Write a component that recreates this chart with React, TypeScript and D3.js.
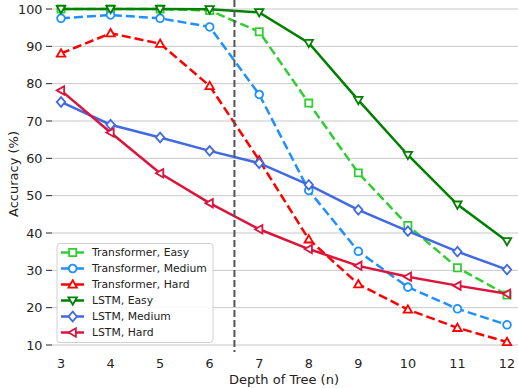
import React from "react";
import * as d3 from "d3";

// depths on the x axis
const depths = [3, 4, 5, 6, 7, 8, 9, 10, 11, 12];

// accuracy per series (%)
const transformerEasy = [100, 100, 100, 99.6, 93.9, 74.8, 56.1, 42.0, 30.7, 23.4];
const transformerMedium = [97.5, 98.4, 97.5, 95.2, 77.1, 51.4, 35.1, 25.5, 19.7, 15.4];
const transformerHard = [88.1, 93.5, 90.7, 79.4, 59.5, 38.3, 26.3, 19.5, 14.6, 10.8];
const lstmEasy = [100, 100, 100, 99.9, 99.1, 90.9, 75.6, 60.9, 47.6, 37.8];
const lstmMedium = [75.1, 69.0, 65.6, 62.0, 58.7, 52.9, 46.2, 40.5, 35.0, 30.2];
const lstmHard = [78.2, 66.9, 56.0, 48.0, 41.0, 35.7, 31.2, 28.3, 25.9, 23.7];

const yTicks = [10, 20, 30, 40, 50, 60, 70, 80, 90, 100];
const splitDepth = 6.5;

type Series = {
  name: string;
  values: number[];
  color: string;
  dashed: boolean;
  marker: string;
};

const series: Series[] = [
  { name: "Transformer, Easy", values: transformerEasy, color: "#32cd32", dashed: true, marker: "square" },
  { name: "Transformer, Medium", values: transformerMedium, color: "#1e90ff", dashed: true, marker: "circle" },
  { name: "Transformer, Hard", values: transformerHard, color: "#ff0000", dashed: true, marker: "up" },
  { name: "LSTM, Easy", values: lstmEasy, color: "#008000", dashed: false, marker: "down" },
  { name: "LSTM, Medium", values: lstmMedium, color: "#4169e1", dashed: false, marker: "diamond" },
  { name: "LSTM, Hard", values: lstmHard, color: "#dc143c", dashed: false, marker: "left" },
];

const font = "DejaVu Sans, sans-serif";

// marker path centered on 0,0
function markerPath(kind: string): string {
  const r = 4.2;
  switch (kind) {
    case "square":
      return `M${-r * 0.85},${-r * 0.85}H${r * 0.85}V${r * 0.85}H${-r * 0.85}Z`;
    case "circle":
      return d3.symbol(d3.symbolCircle, Math.PI * r * r * 0.85)() || "";
    case "up":
      return `M0,${-r}L${r},${r * 0.75}L${-r},${r * 0.75}Z`;
    case "down":
      return `M0,${r}L${r},${-r * 0.75}L${-r},${-r * 0.75}Z`;
    case "left":
      return `M${-r},0L${r * 0.75},${-r}L${r * 0.75},${r}Z`;
    case "diamond":
      return `M0,${-r * 1.15}L${r},0L0,${r * 1.15}L${-r},0Z`;
  }
  return "";
}

export default function App() {
  const width = 518;
  const height = 388;

  // scales
  const x = d3.scaleLinear().domain([3, 12]).range([61, 507]);
  const y = d3.scaleLinear().domain([10, 100]).range([345, 9]);

  const line = d3
    .line<number>()
    .x((_, i) => x(depths[i]))
    .y((d) => y(d));

  const legendX = 57;
  const legendY = 243.5;

  return (
    <svg
      width={width}
      height={height}
      style={{ position: "absolute", left: 0, top: 0, background: "#fff" }}
      fontFamily={font}
    >
      {/* horizontal grid and y ticks */}
      {yTicks.map((t) => (
        <g key={t}>
          <line x1={52} x2={518} y1={y(t)} y2={y(t)} stroke="#c8c8c8" strokeWidth={1} />
          <line x1={46} x2={52} y1={y(t)} y2={y(t)} stroke="#222" strokeWidth={1} />
          <text x={42.5} y={y(t)} dy="0.36em" textAnchor="end" fontSize={12.8} fill="#222">
            {t}
          </text>
        </g>
      ))}

      {/* x tick labels */}
      {depths.map((d) => (
        <text key={d} x={x(d)} y={368} textAnchor="middle" fontSize={12.8} fill="#222">
          {d}
        </text>
      ))}

      {/* axis titles */}
      <text x={284} y={384} textAnchor="middle" fontSize={13} fill="#222">
        Depth of Tree (n)
      </text>
      <text
        transform={`translate(18,${174}) rotate(-90)`}
        textAnchor="middle"
        fontSize={13}
        fill="#222"
      >
        Accuracy (%)
      </text>

      {/* series lines */}
      {series.map((s) => (
        <g key={s.name}>
          <path
            d={line(s.values) || ""}
            fill="none"
            stroke={s.color}
            strokeWidth={2.5}
            strokeDasharray={s.dashed ? "9,4" : undefined}
          />
          {s.values.map((v, i) => (
            <path
              key={i}
              d={markerPath(s.marker)}
              transform={`translate(${x(depths[i])},${y(v)})`}
              fill="#fff"
              stroke={s.color}
              strokeWidth={1.8}
            />
          ))}
        </g>
      ))}

      {/* split line between train and test depths */}
      <line
        x1={x(splitDepth)}
        x2={x(splitDepth)}
        y1={0}
        y2={352}
        stroke="#555"
        strokeWidth={2}
        strokeDasharray="7,3"
      />

      {/* legend */}
      <rect
        x={legendX}
        y={legendY}
        width={156}
        height={99}
        rx={3}
        fill="#fff"
        fillOpacity={0.85}
        stroke="#d0d0d0"
        strokeWidth={1}
      />
      {series.map((s, i) => {
        const ly = legendY + 9 + i * 16;
        return (
          <g key={s.name}>
            <line
              x1={legendX + 4}
              x2={legendX + 27}
              y1={ly}
              y2={ly}
              stroke={s.color}
              strokeWidth={2.5}
            />
            <path
              d={markerPath(s.marker)}
              transform={`translate(${legendX + 15.7},${ly})`}
              fill="#fff"
              stroke={s.color}
              strokeWidth={1.8}
            />
            <text x={legendX + 35} y={ly} dy="0.36em" fontSize={10.8} fill="#222">
              {s.name}
            </text>
          </g>
        );
      })}
    </svg>
  );
}
